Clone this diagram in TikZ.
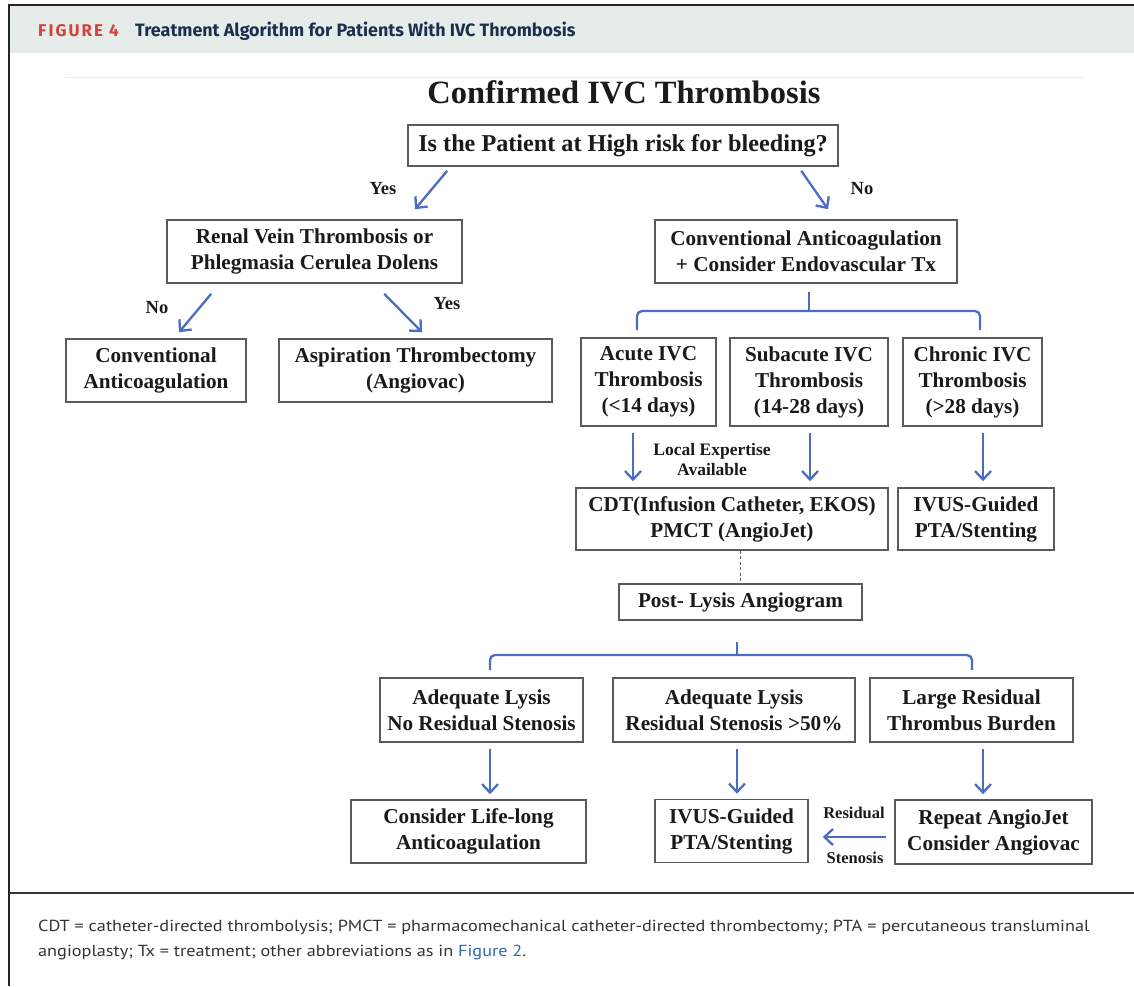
\documentclass[tikz,border=0pt]{standalone}
\usepackage{fontspec}
\setmainfont{Liberation Serif}
\newfontfamily\headfont{Fira Sans}
\newfontfamily\capfont[FakeStretch=1.14]{PT Sans}
\usetikzlibrary{arrows.meta,calc}

\definecolor{arrowblue}{HTML}{4A6CC2}
\definecolor{bandgray}{HTML}{E6ECE9}
\definecolor{figred}{HTML}{D2433A}
\definecolor{headnavy}{HTML}{1E2F4E}
\definecolor{linkblue}{HTML}{2D6AAE}
\definecolor{boxline}{HTML}{5A5A5A}
\definecolor{inktext}{HTML}{1A1A1A}

\tikzset{
  box/.style={draw=boxline, line width=1.6pt, fill=white, align=center,
    inner sep=0pt, text=inktext, font=\bfseries\fontsize{21.2}{26}\selectfont},
  arr/.style={draw=arrowblue, line width=2.3pt,
    -{Straight Barb[length=8.5pt,width=16pt,line width=2.3pt]}},
  bracket/.style={draw=arrowblue, line width=2.3pt, rounded corners=5pt},
  tag/.style={text=inktext, inner sep=0pt, align=center,
    font=\bfseries\fontsize{18.5}{20}\selectfont},
  smalltag/.style={text=inktext, inner sep=0pt, align=center,
    font=\bfseries\fontsize{16.5}{20}\selectfont},
}

\begin{document}
\begin{tikzpicture}[x=1pt, y=-1pt]
\useasboundingbox (0,0) rectangle (1134,986);

% frame and header band
\fill[bandgray] (9,6) rectangle (1134,53);
\draw[line width=2.6pt, black!85] (9,5) -- (1134,5);
\draw[line width=2.2pt, black!85] (9,4) -- (9,986);
\draw[line width=2.6pt, black!80] (9,893) -- (1134,893);
\draw[line width=0.8pt, black!7] (65,77) -- (1085,77);

\node[anchor=west, inner sep=0pt, text=figred,
      font=\headfont\bfseries\fontsize{17}{19}\selectfont\addfontfeatures{LetterSpace=12}]
  (fig) at (38,31) {FIGURE 4};
\node[anchor=west, inner sep=0pt, text=headnavy,
      font=\headfont\bfseries\fontsize{17.9}{20}\selectfont]
  (figtitle) at (135,31) {Treatment Algorithm for Patients With IVC Thrombosis};

% title
\node[inner sep=0pt, text=inktext, font=\bfseries\fontsize{32.5}{36}\selectfont]
  (title) at (624,92) {Confirmed IVC Thrombosis};

% boxes
\node[box, minimum width=430, minimum height=41,
      font=\bfseries\fontsize{24.2}{28}\selectfont] (q) at (623,145.5)
  {Is the Patient at High risk for bleeding?};
\node[box, minimum width=295, minimum height=63] (renal) at (314.5,251.5)
  {Renal Vein Thrombosis or\\Phlegmasia Cerulea Dolens};
\node[box, minimum width=302, minimum height=63] (conv) at (806,251.5)
  {Conventional Anticoagulation\\+ Consider Endovascular Tx};
\node[box, minimum width=180, minimum height=63] (convL) at (156,370.5)
  {Conventional\\Anticoagulation};
\node[box, minimum width=273, minimum height=63] (asp) at (415.5,370.5)
  {Aspiration Thrombectomy\\(Angiovac)};
\node[box, minimum width=135, minimum height=88] (acute) at (648.5,382)
  {Acute IVC\\Thrombosis\\(<14 days)};
\node[box, minimum width=158, minimum height=88] (sub) at (809,382)
  {Subacute IVC\\Thrombosis\\(14-28 days)};
\node[box, minimum width=139, minimum height=88] (chron) at (972.5,382)
  {Chronic IVC\\Thrombosis\\(>28 days)};
\node[box, minimum width=312, minimum height=62] (cdt) at (732,519)
  {CDT(Infusion Catheter, EKOS)\\PMCT (AngioJet)};
\node[box, minimum width=156, minimum height=62] (ivusA) at (976,519)
  {IVUS-Guided\\PTA/Stenting};
\node[box, minimum width=243, minimum height=36] (post) at (740.5,602)
  {Post- Lysis Angiogram};
\node[box, minimum width=203, minimum height=64] (adA) at (481.5,710)
  {Adequate Lysis\\No Residual Stenosis};
\node[box, minimum width=242, minimum height=64] (adB) at (734,710)
  {Adequate Lysis\\Residual Stenosis >50\%};
\node[box, minimum width=203, minimum height=64] (large) at (971.5,710)
  {Large Residual\\Thrombus Burden};
\node[box, minimum width=235, minimum height=63] (life) at (468.5,831.5)
  {Consider Life-long\\Anticoagulation};
\node[box, minimum width=153, minimum height=63] (ivusB) at (731.5,831)
  {IVUS-Guided\\PTA/Stenting};
\node[box, minimum width=197, minimum height=64] (rep) at (993.5,832)
  {Repeat AngioJet\\Consider Angiovac};

% decision arrows
\draw[arr] ($(q.south west)+(40,4)$) -- ($(renal.north)+(100.5,-10)$);
\draw[arr] ($(q.south west)+(394,4)$) -- ($(conv.north)+(22,-10)$);
\node[tag] (yes1) at (383,189) {Yes};
\node[tag] (no1) at (862,189) {No};

\draw[arr] ($(renal.south west)+(45,10)$) -- ($(convL.north)+(23,-6)$);
\draw[arr] ($(renal.south west)+(218,10)$) -- ($(asp.north)+(6.5,-6)$);
\node[tag] (no2) at (157,308) {No};
\node[tag] (yes2) at (447,304) {Yes};

% bracket under the anticoagulation box
\draw[bracket] ($(conv.south)+(3,8)$) -- ($(conv.south)+(3,28)$);
\draw[bracket] (637,330) -- (637,311) -- (980,311) -- (980,330);

% stage arrows
\draw[arr] ($(acute.south)+(-15.5,6)$) -- ($(cdt.north)+(-99,-6)$);
\draw[arr] ($(sub.south)+(1,6)$) -- ($(cdt.north)+(78,-6)$);
\draw[arr] ($(chron.south)+(10.5,6)$) -- ($(ivusA.north)+(7,-6)$);
\node[smalltag, font=\bfseries\fontsize{17.5}{20}\selectfont] (expert) at (712,460)
  {Local Expertise\\Available};

% dotted link to the angiogram
\draw[boxline, line width=1.8pt, dash pattern=on 3pt off 2.5pt]
  (cdt.south -| post.north) -- (post.north);

% bracket under the angiogram
\draw[bracket] ($(post.south)+(-3.5,21)$) -- ($(post.south)+(-3.5,35)$);
\draw[bracket] (490,670) -- (490,655) -- (972,655) -- (972,670);

% outcome arrows
\draw[arr] ($(adA.south)+(8.5,6)$) -- ($(life.north)+(21.5,-5)$);
\draw[arr] ($(adB.south)+(3,6)$) -- ($(ivusB.north)+(5.5,-5)$);
\draw[arr] ($(large.south)+(11.5,6)$) -- ($(rep.north)+(-10.5,-5)$);
\draw[arr] ($(rep.west)+(-8,5)$) -- ($(ivusB.east)+(14,6)$);
\node[smalltag] (resid) at (854,813) {Residual};
\node[smalltag] (sten) at (855,858) {Stenosis};

% caption
\node[anchor=west, inner sep=0pt, text=black!80,
      font=\capfont\fontsize{16}{18}\selectfont] (cap1) at (38,927)
  {CDT = catheter-directed thrombolysis; PMCT = pharmacomechanical catheter-directed thrombectomy; PTA = percutaneous transluminal};
\node[anchor=west, inner sep=0pt, text=black!80,
      font=\capfont\fontsize{16}{18}\selectfont] (cap2) at (38,952)
  {angioplasty; Tx = treatment; other abbreviations as in \textcolor{linkblue}{Figure 2}.};
\end{tikzpicture}
\end{document}
